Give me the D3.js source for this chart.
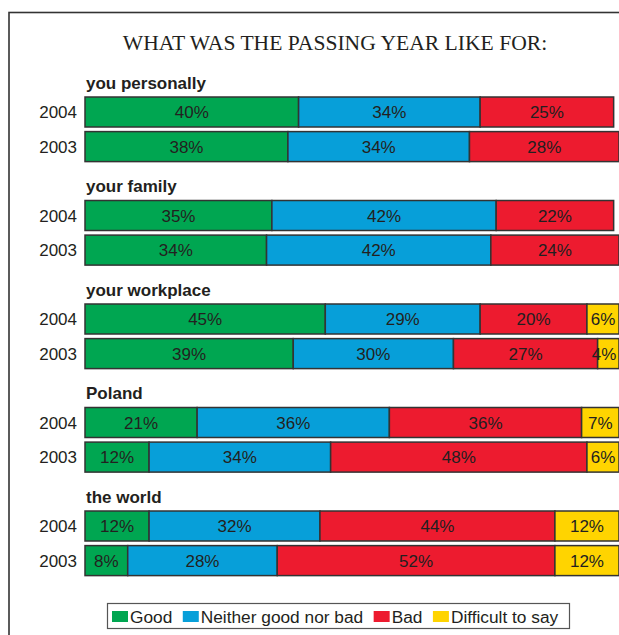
<!DOCTYPE html>
<html>
<head>
<meta charset="utf-8">
<script src="https://cdn.jsdelivr.net/npm/d3@7"></script>
<style>
  html, body { margin: 0; padding: 0; background: #fff; }
  svg { display: block; }
</style>
</head>
<body>
<svg id="chart" width="619" height="635"></svg>
<script>
// Survey: "What was the passing year like for ..." — 2004 vs 2003
const groups = ["you personally", "your family", "your workplace", "Poland", "the world"];
const years = ["2004", "2003"];
const seriesNames = ["Good", "Neither good nor bad", "Bad", "Difficult to say"];
const seriesColors = ["#00a651", "#079fd9", "#ed1b2f", "#ffd400"];

// values per group, in year order [2004, 2003]
const good      = [[40, 38], [35, 34], [45, 39], [21, 12], [12, 8]];
const neither   = [[34, 34], [42, 42], [29, 30], [36, 34], [32, 28]];
const bad       = [[25, 28], [22, 24], [20, 27], [36, 48], [44, 52]];
const difficult = [[0, 0],   [0, 0],   [6, 4],   [7, 6],   [12, 12]];

const titleText = "WHAT WAS THE PASSING YEAR LIKE FOR:";

const svg = d3.select("#chart");
const textColor = "#231f20";
const sans = "Liberation Sans, Arial, Helvetica, sans-serif";

// outer frame (continues past the page edge)
svg.append("rect")
  .attr("x", 9).attr("y", 12.5)
  .attr("width", 800).attr("height", 800)
  .attr("fill", "none").attr("stroke", "#333").attr("stroke-width", 1.6);

svg.append("text")
  .attr("x", 335).attr("y", 50)
  .attr("text-anchor", "middle")
  .attr("font-family", "Liberation Serif, Times New Roman, serif")
  .attr("font-size", 21.6)
  .attr("fill", textColor)
  .text(titleText);

// flatten into rows
const rows = [];
groups.forEach((g, gi) => {
  years.forEach((y, yi) => {
    rows.push({
      group: g, gi, year: y, yi,
      "Good": good[gi][yi],
      "Neither good nor bad": neither[gi][yi],
      "Bad": bad[gi][yi],
      "Difficult to say": difficult[gi][yi]
    });
  });
});

const x = d3.scaleLinear().domain([0, 100]).range([85, 619]);
const groupY = d3.scaleLinear().domain([0, groups.length - 1]).range([97, 511]);
const yearOffset = d3.scaleOrdinal().domain(years).range([0, 34.6]);
const barH = 30;
const color = d3.scaleOrdinal().domain(seriesNames).range(seriesColors);

const stack = d3.stack().keys(seriesNames);
const layers = stack(rows);

// group headings
svg.selectAll("text.group")
  .data(groups)
  .join("text")
  .attr("class", "group")
  .attr("x", 86)
  .attr("y", (d, i) => groupY(i) - 8.5)
  .attr("font-family", sans)
  .attr("font-weight", "bold")
  .attr("font-size", 17)
  .attr("fill", textColor)
  .text(d => d);

// year labels
svg.selectAll("text.year")
  .data(rows)
  .join("text")
  .attr("class", "year")
  .attr("x", 77)
  .attr("y", d => groupY(d.gi) + yearOffset(d.year) + barH / 2)
  .attr("dy", "0.36em")
  .attr("text-anchor", "end")
  .attr("font-family", sans)
  .attr("font-size", 17)
  .attr("fill", textColor)
  .text(d => d.year);

// segments
const layerG = svg.selectAll("g.layer")
  .data(layers)
  .join("g")
  .attr("class", "layer")
  .attr("fill", d => color(d.key));

layerG.selectAll("rect")
  .data(d => d.filter(s => s[1] - s[0] > 0))
  .join("rect")
  .attr("x", s => x(s[0]))
  .attr("y", s => groupY(s.data.gi) + yearOffset(s.data.year))
  .attr("width", s => x(s[1]) - x(s[0]))
  .attr("height", barH)
  .attr("stroke", "#333")
  .attr("stroke-width", 1.5);

// value labels (kept inside the right page edge)
layerG.selectAll("text")
  .data(d => d.filter(s => s[1] - s[0] > 0))
  .join("text")
  .attr("x", s => Math.min((x(s[0]) + x(s[1])) / 2, 604))
  .attr("y", s => groupY(s.data.gi) + yearOffset(s.data.year) + barH / 2)
  .attr("dy", "0.36em")
  .attr("text-anchor", "middle")
  .attr("font-family", sans)
  .attr("font-size", 17)
  .attr("fill", textColor)
  .text(s => (s[1] - s[0]) + "%");

// legend
const legend = svg.append("g");
legend.append("rect")
  .attr("x", 107.5).attr("y", 603.5)
  .attr("width", 462).attr("height", 25)
  .attr("fill", "#fff").attr("stroke", "#555").attr("stroke-width", 1.2);

let lx = 112;
seriesNames.forEach(name => {
  legend.append("rect")
    .attr("x", lx).attr("y", 611)
    .attr("width", 16).attr("height", 11)
    .attr("fill", color(name));
  const t = legend.append("text")
    .attr("x", lx + 18).attr("y", 622.5)
    .attr("font-family", sans)
    .attr("font-size", 17.3)
    .attr("fill", textColor)
    .text(name);
  lx += 18 + t.node().getComputedTextLength() + 10.5;
});
</script>
</body>
</html>
